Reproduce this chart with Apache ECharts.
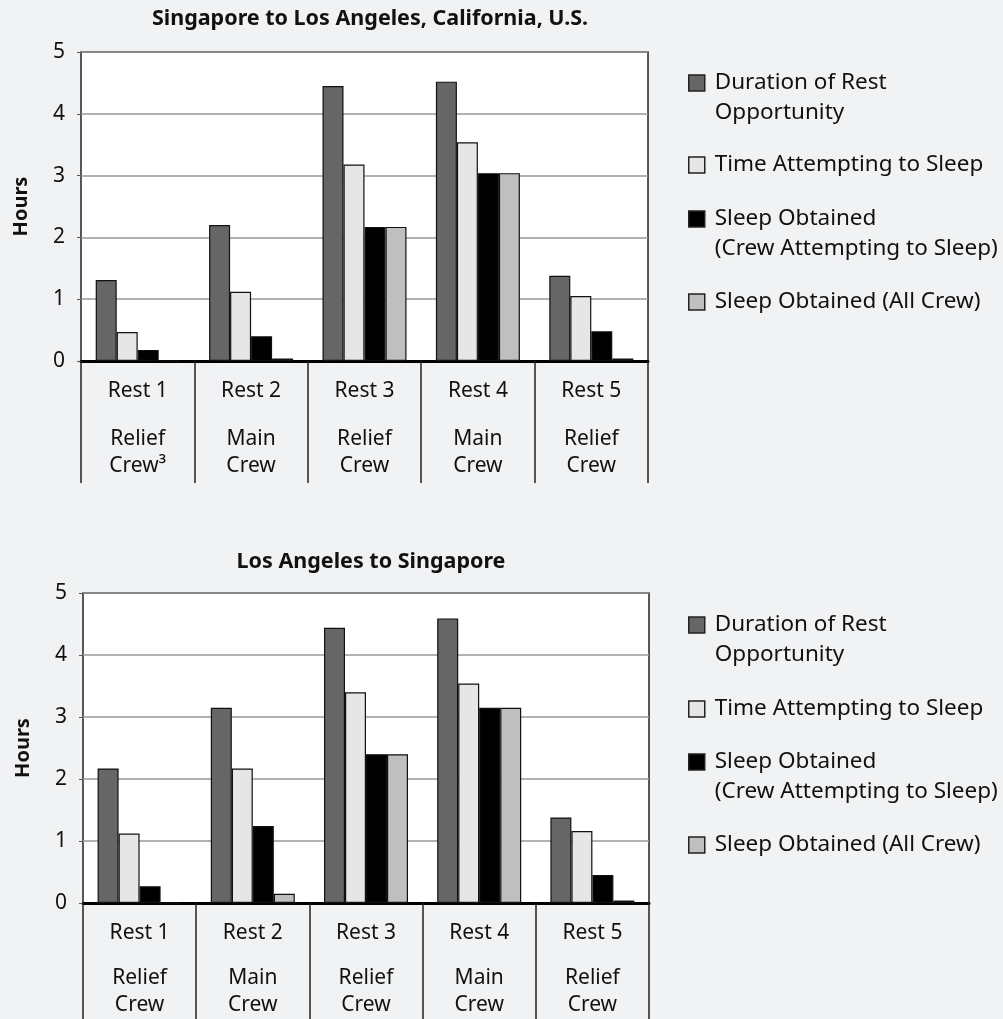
<!DOCTYPE html>
<html><head><meta charset="utf-8">
<script src="https://cdn.jsdelivr.net/npm/echarts@6/dist/echarts.min.js"></script>
<style>html,body{margin:0;padding:0;background:#f1f2f4}#c{width:1003px;height:1019px}</style>
</head><body><div id="c"></div><script>
const categories = ['Rest 1', 'Rest 2', 'Rest 3', 'Rest 4', 'Rest 5'];
const crewTop = [['Relief', 'Crew³'], ['Main', 'Crew'], ['Relief', 'Crew'], ['Main', 'Crew'], ['Relief', 'Crew']];
const crewBottom = [['Relief', 'Crew'], ['Main', 'Crew'], ['Relief', 'Crew'], ['Main', 'Crew'], ['Relief', 'Crew']];
const seriesNames = ['Duration of Rest Opportunity', 'Time Attempting to Sleep', 'Sleep Obtained (Crew Attempting to Sleep)', 'Sleep Obtained (All Crew)'];
const legendLines = [['Duration of Rest', 'Opportunity'], ['Time Attempting to Sleep'], ['Sleep Obtained', '(Crew Attempting to Sleep)'], ['Sleep Obtained (All Crew)']];
const titles = ['Singapore to Los Angeles, California, U.S.', 'Los Angeles to Singapore'];
const yAxisName = 'Hours';
// Singapore -> Los Angeles
const topDuration = [1.31, 2.2, 4.45, 4.52, 1.38];
const topAttempt = [0.47, 1.12, 3.18, 3.54, 1.05];
const topSleepAttempt = [0.18, 0.4, 2.17, 3.04, 0.48];
const topSleepAll = [0, 0.04, 2.17, 3.04, 0.04];
// Los Angeles -> Singapore
const botDuration = [2.17, 3.15, 4.44, 4.59, 1.38];
const botAttempt = [1.12, 2.17, 3.4, 3.54, 1.16];
const botSleepAttempt = [0.27, 1.24, 2.4, 3.15, 0.45];
const botSleepAll = [0, 0.15, 2.4, 3.15, 0.04];
const yMin = 0, yMax = 5, yStep = 1;

const FONT = 'Noto Sans';
const colors = ['#666666', '#e6e6e6', '#000000', '#bfbfbf'];
const chart = echarts.init(document.getElementById('c'));

function xAxisFor(gridIndex, crew, gapH) {
  return {
    type: 'category', gridIndex, data: categories,
    axisLine: { lineStyle: { color: '#000', width: 3 } },
    axisTick: { show: true, interval: 0, length: 122, lineStyle: { color: '#222', width: 1.5 } },
    axisLabel: {
      interval: 0, margin: 17,
      formatter: (v, i) => `{r|${v}}\n{g| }\n{c|${crew[i][0]}}\n{c|${crew[i][1]}}`,
      rich: {
        r: { fontFamily: FONT, fontSize: 21, lineHeight: 27, color: '#111' },
        g: { fontSize: 6, lineHeight: gapH },
        c: { fontFamily: FONT, fontSize: 21, lineHeight: 27, color: '#111' }
      }
    }
  };
}
function yAxisFor(gridIndex) {
  return {
    type: 'value', gridIndex, min: yMin, max: yMax, interval: yStep,
    name: yAxisName, nameLocation: 'middle', nameGap: 50, nameRotate: 90,
    nameTextStyle: { fontFamily: FONT, fontSize: 20, fontWeight: 'bold', color: '#111' },
    axisLine: { show: false },
    axisTick: { show: true, length: 4, lineStyle: { color: '#555' } },
    axisLabel: { fontFamily: FONT, fontSize: 21, color: '#111', margin: 16 },
    splitLine: { lineStyle: { color: '#999', width: 1.5 } }
  };
}
const topData = [topDuration, topAttempt, topSleepAttempt, topSleepAll];
const botData = [botDuration, botAttempt, botSleepAttempt, botSleepAll];
const series = [];
[topData, botData].forEach((set, g) => {
  set.forEach((d, k) => {
    series.push({
      type: 'bar', name: seriesNames[k], xAxisIndex: g, yAxisIndex: g, data: d,
      barWidth: 21, barGap: '0%',
      itemStyle: { color: colors[k], borderColor: '#111', borderWidth: 1.2 }
    });
  });
});
const legendTops = [[38, 150, 174, 287], [580, 694, 717, 830]];
const legends = [];
legendTops.forEach((tops) => {
  tops.forEach((t, k) => {
    const lines = legendLines[k];
    legends.push({
      left: 688, top: t, padding: 0, data: [seriesNames[k]], icon: 'rect',
      itemWidth: 16, itemHeight: 16, selectedMode: false,
      itemStyle: { borderColor: '#222', borderWidth: 1.5 },
      formatter: () => lines.length > 1 ? `{e| }\n${lines.map(s => '{t|' + s + '}').join('\n')}` : `{t|${lines[0]}}`,
      textStyle: {
        fontFamily: FONT, fontSize: 22.5, lineHeight: 30, color: '#111',
        rich: {
          e: { fontSize: 6, lineHeight: 30 },
          t: { fontFamily: FONT, fontSize: 22.5, lineHeight: 30, color: '#111', padding: [0, 0, 0, 5] }
        }
      }
    });
  });
});
chart.setOption({
  backgroundColor: '#f1f2f4',
  animation: false,
  title: [
    { text: titles[0], left: 365, top: 3, textAlign: 'center', textStyle: { fontFamily: FONT, fontSize: 21.5, fontWeight: 'bold', color: '#111' } },
    { text: titles[1], left: 366, top: 546, textAlign: 'center', textStyle: { fontFamily: FONT, fontSize: 21.5, fontWeight: 'bold', color: '#111' } }
  ],
  grid: [
    { left: 81, top: 52, width: 567, height: 309, show: true, backgroundColor: '#fff', borderColor: '#222', borderWidth: 1.5 },
    { left: 83, top: 593, width: 566, height: 310, show: true, backgroundColor: '#fff', borderColor: '#222', borderWidth: 1.5 }
  ],
  xAxis: [xAxisFor(0, crewTop, 21), xAxisFor(1, crewBottom, 18)],
  yAxis: [yAxisFor(0), yAxisFor(1)],
  legend: legends,
  series
});
</script></body></html>
